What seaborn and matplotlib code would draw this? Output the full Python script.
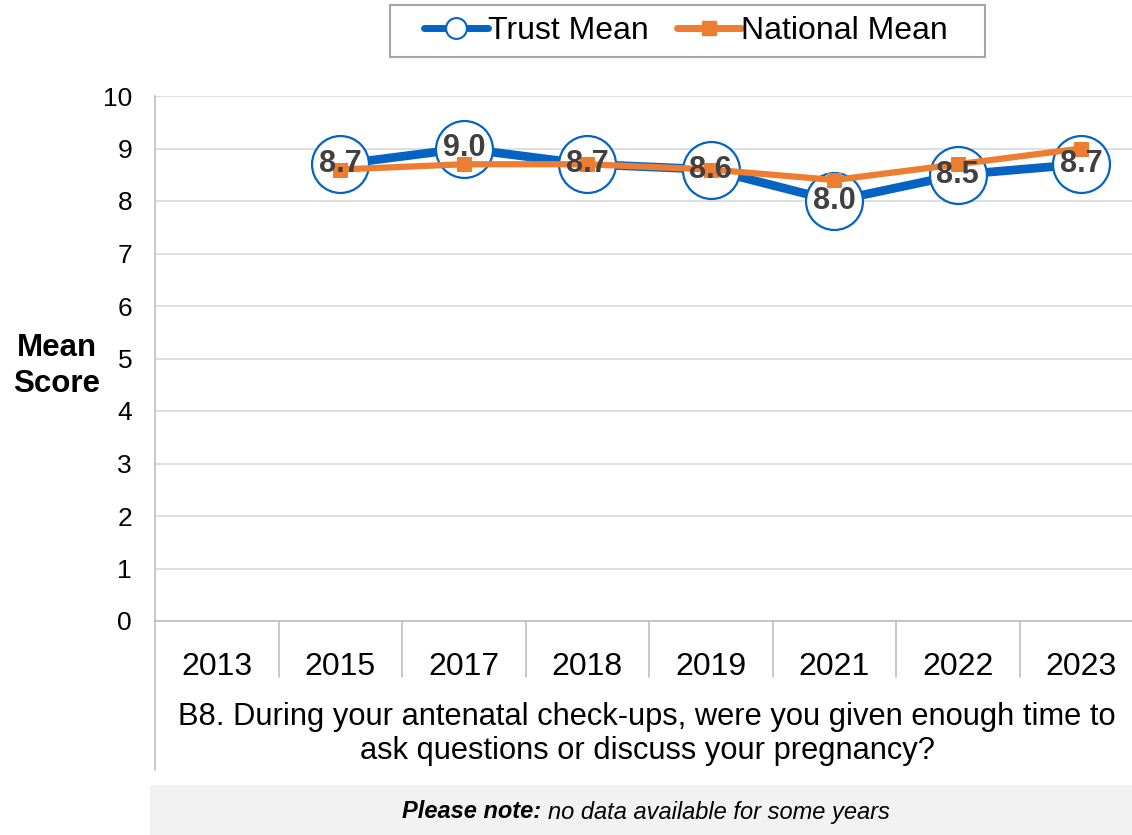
import matplotlib
matplotlib.use("Agg")
import matplotlib.pyplot as plt
import seaborn as sns
import numpy as np
import pandas as pd
from matplotlib.lines import Line2D
from matplotlib.patches import Rectangle

years = ["2013", "2015", "2017", "2018", "2019", "2021", "2022", "2023"]
trust_mean = [np.nan, 8.7, 9.0, 8.7, 8.6, 8.0, 8.5, 8.7]
national_mean = [np.nan, 8.6, 8.7, 8.7, 8.6, 8.4, 8.7, 9.0]
y_ticks = [0, 1, 2, 3, 4, 5, 6, 7, 8, 9, 10]
question = "B8. During your antenatal check-ups, were you given enough time to\nask questions or discuss your pregnancy?"

BLUE = "#0563C1"
ORANGE = "#ED7D31"
GRID = "#D9D9D9"
AXC = "#BFBFBF"

sns.set_theme(style="white")
plt.rcParams["font.family"] = ["Liberation Sans", "DejaVu Sans"]
plt.rcParams["text.color"] = "black"
plt.rcParams["xtick.color"] = "black"
plt.rcParams["ytick.color"] = "black"

W, H = 1132, 835
fig = plt.figure(figsize=(W / 100, H / 100), dpi=100)

def fx(px):
    return px / W

def fy(py):
    return 1 - py / H

left, right, top, bottom = 155, 1143, 96, 621
ax = fig.add_axes([fx(left), fy(bottom), fx(right - left), fy(top) - fy(bottom)])

df = pd.DataFrame({"year": years, "pos": np.arange(len(years)),
                   "trust": trust_mean, "national": national_mean})

sns.lineplot(data=df, x="pos", y="trust", ax=ax, color=BLUE, lw=6.3,
             marker="o", markersize=41, markerfacecolor="white",
             markeredgecolor=BLUE, markeredgewidth=1.6, zorder=3)
sns.lineplot(data=df, x="pos", y="national", ax=ax, color=ORANGE, lw=4.5,
             marker="s", markersize=10, markerfacecolor=ORANGE,
             markeredgecolor=ORANGE, zorder=4)

for p, v in zip(df["pos"], df["trust"]):
    if not np.isnan(v):
        ax.text(p, v, f"{v:.1f}", ha="center", va="center", fontsize=22,
                fontweight="bold", color="#404040", zorder=5)

ax.set_xlim(-0.5, len(years) - 0.5)
ax.set_ylim(0, 10)
ax.set_yticks(y_ticks)
ax.set_yticklabels([str(t) for t in y_ticks], fontsize=19)
ax.tick_params(axis="y", length=0, pad=16.5)
ax.set_xticks(df["pos"])
ax.set_xticklabels(years, fontsize=23)
ax.tick_params(axis="x", length=0, pad=22)
ax.set_xlabel("")
ax.set_ylabel("")
ax.grid(axis="y", color=GRID, lw=1.2)
ax.set_axisbelow(True)
for s in ["top", "right"]:
    ax.spines[s].set_visible(False)
ax.spines["left"].set_color(AXC)
ax.spines["left"].set_linewidth(1.2)
ax.spines["bottom"].set_color(AXC)
ax.spines["bottom"].set_linewidth(1.2)

# category separators below axis
trans = ax.get_xaxis_transform()
sep_len = (677 - 621) / (bottom - top)
for i in range(1, len(years)):
    ax.add_line(Line2D([i - 0.5, i - 0.5], [0, -sep_len], transform=trans,
                       color=AXC, lw=1.2, clip_on=False))

# left border extending down
fig.add_artist(Line2D([fx(left), fx(left)], [fy(bottom), fy(770)], color=AXC, lw=1.2))

# y label
fig.text(fx(57), fy(366), "Mean\nScore", ha="center", va="center", fontsize=22.5,
         fontweight="bold", linespacing=1.25)

# question
fig.text(fx(647), fy(734), question, ha="center", va="center", fontsize=22.2,
         linespacing=1.18)

# note box
fig.add_artist(Rectangle((fx(150), 0), fx(W - 150), fy(785), transform=fig.transFigure,
                         facecolor="#F2F2F2", edgecolor="none", zorder=0))
fig.text(fx(541), fy(812), "Please note:", ha="right", va="center",
         fontsize=17, fontweight="bold", style="italic")
fig.text(fx(548), fy(812), "no data available for some years", ha="left", va="center",
         fontsize=17, style="italic")

# legend
handles = [
    Line2D([], [], color=BLUE, lw=5, marker="o", markersize=15,
           markerfacecolor="white", markeredgecolor=BLUE, markeredgewidth=1.5),
    Line2D([], [], color=ORANGE, lw=5, marker="s", markersize=10,
           markerfacecolor=ORANGE, markeredgecolor=ORANGE),
]
leg = fig.legend(handles, ["Trust Mean", "National Mean"], loc="center",
                 bbox_to_anchor=(fx(686), fy(31)), ncol=2, fontsize=23,
                 frameon=False, handlelength=2.0, handletextpad=0.0,
                 columnspacing=0.9, borderpad=0.3)
fig.add_artist(Rectangle((fx(390), fy(57)), fx(985 - 390), fy(5) - fy(57),
                         transform=fig.transFigure, facecolor="none",
                         edgecolor="#A6A6A6", lw=1.5))

fig.savefig("out.png", dpi=100)
